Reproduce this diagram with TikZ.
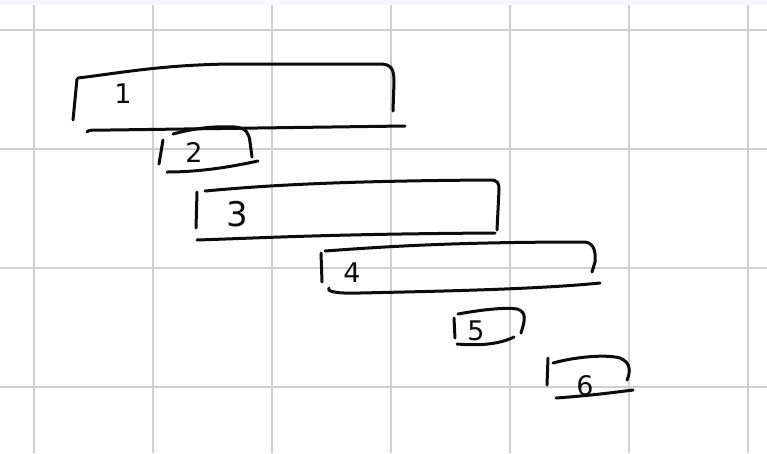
\documentclass[tikz,border=0pt]{standalone}
\usepackage{fontspec}
\setsansfont{DejaVu Sans}
\definecolor{gridgray}{RGB}{208,208,208}
\definecolor{topband}{RGB}{246,246,252}
\definecolor{ink}{RGB}{12,12,12}
\tikzset{
  gridline/.style={draw=gridgray, line width=1.2pt},
  pen/.style={draw=ink, line width=3pt, line cap=round, line join=round},
  digit/.style={font=\sffamily\fontsize{27}{27}\selectfont, text=ink, inner sep=0pt}
}
\begin{document}
\begin{tikzpicture}[x=1pt, y=-1pt]
  \useasboundingbox (0,0) rectangle (767,453);
  \fill[white] (0,0) rectangle (767,453);
  \fill[topband] (0,0) rectangle (767,5);

  % Grid.
  \foreach \gx in {34,153,272,391,510,629,748}
    \draw[gridline] (\gx,5) -- (\gx,453);
  \foreach \gy in {30,149,268,387}
    \draw[gridline] (0,\gy) -- (767,\gy);

  % Bar 1.
  \draw[pen] (77,79) -- (73,120);
  \draw[pen] (78,78) .. controls (120,73) and (160,65) .. (230,64) -- (380,64)
    .. controls (392,64) and (394,70) .. (394,82) -- (393,111);
  \draw[pen] (87,132) .. controls (88,130) and (90,130) .. (110,130) -- (405,126);
  \node[digit] (one) at (123,94) {1};

  % Bar 2.
  \draw[pen] (163,140) -- (159,164);
  \draw[pen] (173,134) .. controls (195,128) and (215,126) .. (235,127)
    .. controls (247,128) and (249,134) .. (250,142) -- (252,157);
  \draw[pen] (167,172) .. controls (200,172) and (230,167) .. (258,161);
  \node[digit] (two) at (194,152) {2};

  % Bar 3.
  \draw[pen] (197,192) -- (196,228);
  \draw[pen] (205,191) .. controls (260,186) and (330,181) .. (490,180)
    .. controls (498,180) and (499,183) .. (499,190) -- (497,230);
  \draw[pen] (197,240) .. controls (260,238) and (330,234) .. (495,233);
  \node[digit, font=\sffamily\fontsize{34}{34}\selectfont] (three) at (237,214) {3};

  % Bar 4.
  \draw[pen] (321,253) -- (322,282);
  \draw[pen] (325,251) .. controls (380,247) and (450,242) .. (585,242)
    .. controls (594,243) and (596,252) .. (595,262) -- (592,272);
  \draw[pen] (329,288) .. controls (327,290) and (330,294) .. (360,293)
    .. controls (450,291) and (540,289) .. (600,283);
  \node[digit] (four) at (352,273) {4};

  % Bar 5.
  \draw[pen] (454,318) -- (455,338);
  \draw[pen] (458,314) .. controls (480,310) and (505,307) .. (517,309)
    .. controls (527,312) and (525,320) .. (521,333);
  \draw[pen] (457,344) .. controls (480,346) and (500,344) .. (514,337);
  \node[digit] (five) at (476,331) {5};

  % Bar 6.
  \draw[pen] (548,358) -- (547,385);
  \draw[pen] (553,363) .. controls (575,357) and (605,354) .. (620,358)
    .. controls (632,363) and (630,373) .. (627,380);
  \draw[pen] (556,398) .. controls (585,396) and (610,393) .. (633,390);
  \node[digit] (six) at (585,386) {6};
\end{tikzpicture}
\end{document}
